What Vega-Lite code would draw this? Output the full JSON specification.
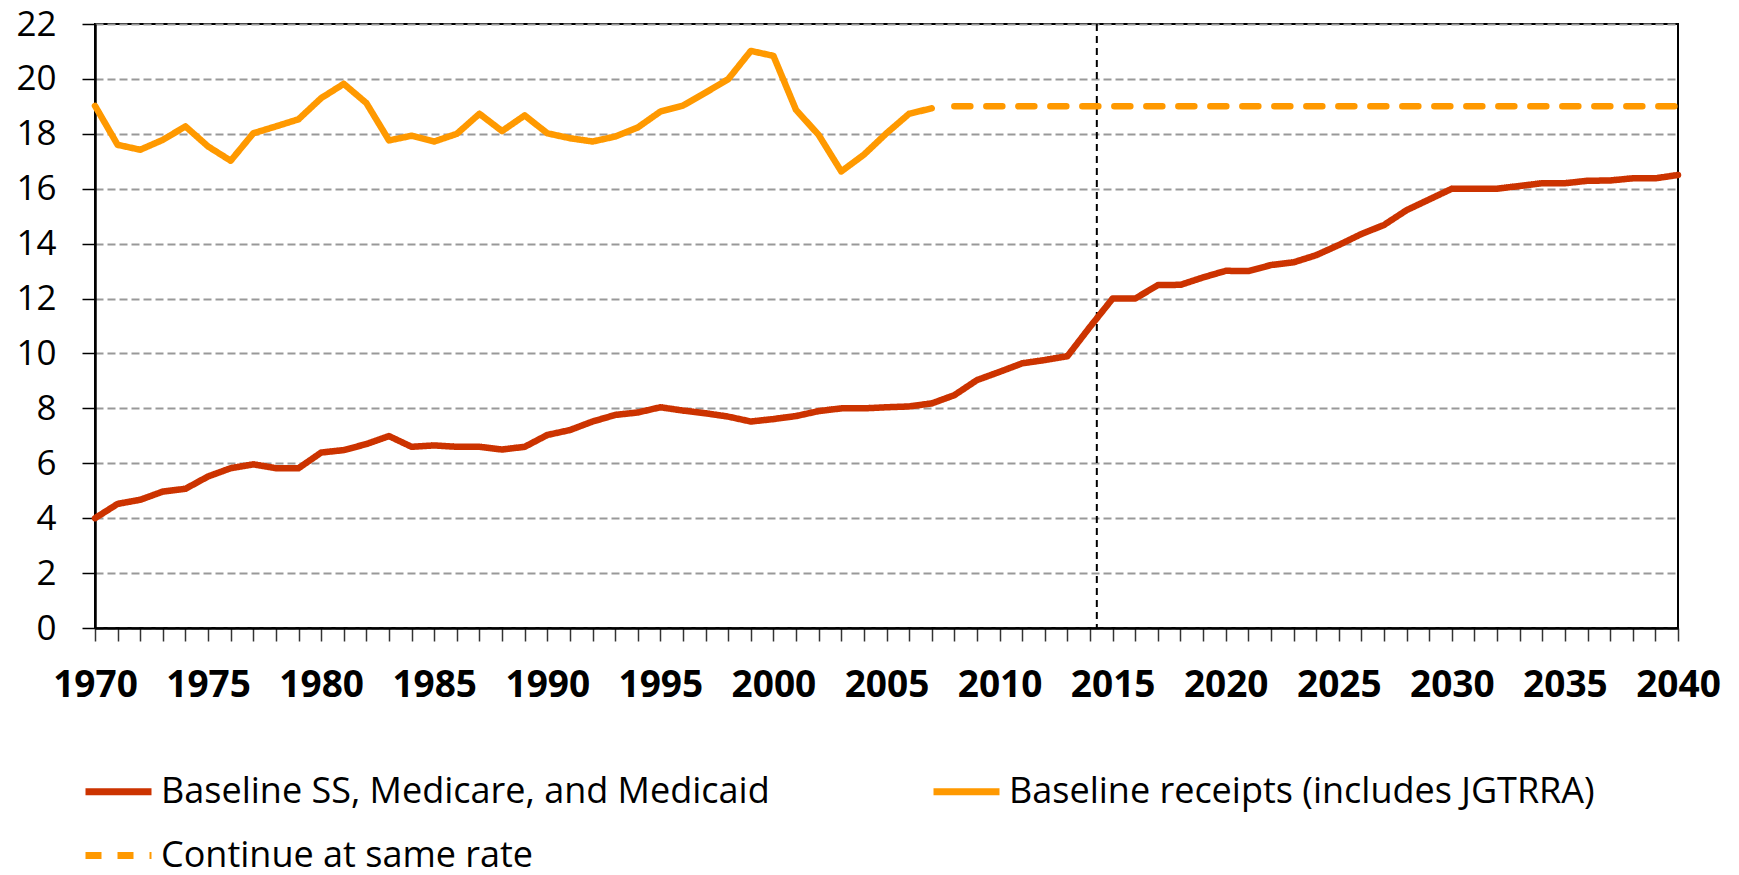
{
  "$schema": "https://vega.github.io/schema/vega-lite/v6.json",
  "width": 1583,
  "height": 604,
  "autosize": "none",
  "padding": {"left": 95, "top": 24, "right": 61, "bottom": 247},
  "background": "white",
  "config": {
    "view": {"stroke": "black", "strokeWidth": 2},
    "font": "Open Sans",
    "axisX": {"labelOverlap": false, "labelSeparation": 0}
  },
  "datasets": {
    "series": [
      {"year": 1970, "value": 4.0, "series": "Baseline SS, Medicare, and Medicaid"},
      {"year": 1971, "value": 4.52, "series": "Baseline SS, Medicare, and Medicaid"},
      {"year": 1972, "value": 4.67, "series": "Baseline SS, Medicare, and Medicaid"},
      {"year": 1973, "value": 4.97, "series": "Baseline SS, Medicare, and Medicaid"},
      {"year": 1974, "value": 5.07, "series": "Baseline SS, Medicare, and Medicaid"},
      {"year": 1975, "value": 5.52, "series": "Baseline SS, Medicare, and Medicaid"},
      {"year": 1976, "value": 5.82, "series": "Baseline SS, Medicare, and Medicaid"},
      {"year": 1977, "value": 5.96, "series": "Baseline SS, Medicare, and Medicaid"},
      {"year": 1978, "value": 5.82, "series": "Baseline SS, Medicare, and Medicaid"},
      {"year": 1979, "value": 5.82, "series": "Baseline SS, Medicare, and Medicaid"},
      {"year": 1980, "value": 6.39, "series": "Baseline SS, Medicare, and Medicaid"},
      {"year": 1981, "value": 6.48, "series": "Baseline SS, Medicare, and Medicaid"},
      {"year": 1982, "value": 6.7, "series": "Baseline SS, Medicare, and Medicaid"},
      {"year": 1983, "value": 6.99, "series": "Baseline SS, Medicare, and Medicaid"},
      {"year": 1984, "value": 6.6, "series": "Baseline SS, Medicare, and Medicaid"},
      {"year": 1985, "value": 6.65, "series": "Baseline SS, Medicare, and Medicaid"},
      {"year": 1986, "value": 6.6, "series": "Baseline SS, Medicare, and Medicaid"},
      {"year": 1987, "value": 6.6, "series": "Baseline SS, Medicare, and Medicaid"},
      {"year": 1988, "value": 6.5, "series": "Baseline SS, Medicare, and Medicaid"},
      {"year": 1989, "value": 6.6, "series": "Baseline SS, Medicare, and Medicaid"},
      {"year": 1990, "value": 7.03, "series": "Baseline SS, Medicare, and Medicaid"},
      {"year": 1991, "value": 7.21, "series": "Baseline SS, Medicare, and Medicaid"},
      {"year": 1992, "value": 7.52, "series": "Baseline SS, Medicare, and Medicaid"},
      {"year": 1993, "value": 7.76, "series": "Baseline SS, Medicare, and Medicaid"},
      {"year": 1994, "value": 7.85, "series": "Baseline SS, Medicare, and Medicaid"},
      {"year": 1995, "value": 8.04, "series": "Baseline SS, Medicare, and Medicaid"},
      {"year": 1996, "value": 7.92, "series": "Baseline SS, Medicare, and Medicaid"},
      {"year": 1997, "value": 7.82, "series": "Baseline SS, Medicare, and Medicaid"},
      {"year": 1998, "value": 7.7, "series": "Baseline SS, Medicare, and Medicaid"},
      {"year": 1999, "value": 7.52, "series": "Baseline SS, Medicare, and Medicaid"},
      {"year": 2000, "value": 7.61, "series": "Baseline SS, Medicare, and Medicaid"},
      {"year": 2001, "value": 7.72, "series": "Baseline SS, Medicare, and Medicaid"},
      {"year": 2002, "value": 7.9, "series": "Baseline SS, Medicare, and Medicaid"},
      {"year": 2003, "value": 8.0, "series": "Baseline SS, Medicare, and Medicaid"},
      {"year": 2004, "value": 8.0, "series": "Baseline SS, Medicare, and Medicaid"},
      {"year": 2005, "value": 8.04, "series": "Baseline SS, Medicare, and Medicaid"},
      {"year": 2006, "value": 8.07, "series": "Baseline SS, Medicare, and Medicaid"},
      {"year": 2007, "value": 8.18, "series": "Baseline SS, Medicare, and Medicaid"},
      {"year": 2008, "value": 8.48, "series": "Baseline SS, Medicare, and Medicaid"},
      {"year": 2009, "value": 9.03, "series": "Baseline SS, Medicare, and Medicaid"},
      {"year": 2010, "value": 9.33, "series": "Baseline SS, Medicare, and Medicaid"},
      {"year": 2011, "value": 9.64, "series": "Baseline SS, Medicare, and Medicaid"},
      {"year": 2012, "value": 9.76, "series": "Baseline SS, Medicare, and Medicaid"},
      {"year": 2013, "value": 9.9, "series": "Baseline SS, Medicare, and Medicaid"},
      {"year": 2014, "value": 10.97, "series": "Baseline SS, Medicare, and Medicaid"},
      {"year": 2015, "value": 12.0, "series": "Baseline SS, Medicare, and Medicaid"},
      {"year": 2016, "value": 12.0, "series": "Baseline SS, Medicare, and Medicaid"},
      {"year": 2017, "value": 12.49, "series": "Baseline SS, Medicare, and Medicaid"},
      {"year": 2018, "value": 12.5, "series": "Baseline SS, Medicare, and Medicaid"},
      {"year": 2019, "value": 12.77, "series": "Baseline SS, Medicare, and Medicaid"},
      {"year": 2020, "value": 13.01, "series": "Baseline SS, Medicare, and Medicaid"},
      {"year": 2021, "value": 13.0, "series": "Baseline SS, Medicare, and Medicaid"},
      {"year": 2022, "value": 13.22, "series": "Baseline SS, Medicare, and Medicaid"},
      {"year": 2023, "value": 13.32, "series": "Baseline SS, Medicare, and Medicaid"},
      {"year": 2024, "value": 13.58, "series": "Baseline SS, Medicare, and Medicaid"},
      {"year": 2025, "value": 13.95, "series": "Baseline SS, Medicare, and Medicaid"},
      {"year": 2026, "value": 14.35, "series": "Baseline SS, Medicare, and Medicaid"},
      {"year": 2027, "value": 14.68, "series": "Baseline SS, Medicare, and Medicaid"},
      {"year": 2028, "value": 15.22, "series": "Baseline SS, Medicare, and Medicaid"},
      {"year": 2029, "value": 15.61, "series": "Baseline SS, Medicare, and Medicaid"},
      {"year": 2030, "value": 16.0, "series": "Baseline SS, Medicare, and Medicaid"},
      {"year": 2031, "value": 16.0, "series": "Baseline SS, Medicare, and Medicaid"},
      {"year": 2032, "value": 16.0, "series": "Baseline SS, Medicare, and Medicaid"},
      {"year": 2033, "value": 16.1, "series": "Baseline SS, Medicare, and Medicaid"},
      {"year": 2034, "value": 16.2, "series": "Baseline SS, Medicare, and Medicaid"},
      {"year": 2035, "value": 16.2, "series": "Baseline SS, Medicare, and Medicaid"},
      {"year": 2036, "value": 16.29, "series": "Baseline SS, Medicare, and Medicaid"},
      {"year": 2037, "value": 16.3, "series": "Baseline SS, Medicare, and Medicaid"},
      {"year": 2038, "value": 16.38, "series": "Baseline SS, Medicare, and Medicaid"},
      {"year": 2039, "value": 16.38, "series": "Baseline SS, Medicare, and Medicaid"},
      {"year": 2040, "value": 16.5, "series": "Baseline SS, Medicare, and Medicaid"},
      {"year": 1970, "value": 19.02, "series": "Baseline receipts (includes JGTRRA)"},
      {"year": 1971, "value": 17.6, "series": "Baseline receipts (includes JGTRRA)"},
      {"year": 1972, "value": 17.42, "series": "Baseline receipts (includes JGTRRA)"},
      {"year": 1973, "value": 17.78, "series": "Baseline receipts (includes JGTRRA)"},
      {"year": 1974, "value": 18.27, "series": "Baseline receipts (includes JGTRRA)"},
      {"year": 1975, "value": 17.54, "series": "Baseline receipts (includes JGTRRA)"},
      {"year": 1976, "value": 17.02, "series": "Baseline receipts (includes JGTRRA)"},
      {"year": 1977, "value": 18.02, "series": "Baseline receipts (includes JGTRRA)"},
      {"year": 1978, "value": 18.27, "series": "Baseline receipts (includes JGTRRA)"},
      {"year": 1979, "value": 18.53, "series": "Baseline receipts (includes JGTRRA)"},
      {"year": 1980, "value": 19.3, "series": "Baseline receipts (includes JGTRRA)"},
      {"year": 1981, "value": 19.82, "series": "Baseline receipts (includes JGTRRA)"},
      {"year": 1982, "value": 19.12, "series": "Baseline receipts (includes JGTRRA)"},
      {"year": 1983, "value": 17.76, "series": "Baseline receipts (includes JGTRRA)"},
      {"year": 1984, "value": 17.93, "series": "Baseline receipts (includes JGTRRA)"},
      {"year": 1985, "value": 17.72, "series": "Baseline receipts (includes JGTRRA)"},
      {"year": 1986, "value": 18.0, "series": "Baseline receipts (includes JGTRRA)"},
      {"year": 1987, "value": 18.73, "series": "Baseline receipts (includes JGTRRA)"},
      {"year": 1988, "value": 18.1, "series": "Baseline receipts (includes JGTRRA)"},
      {"year": 1989, "value": 18.67, "series": "Baseline receipts (includes JGTRRA)"},
      {"year": 1990, "value": 18.02, "series": "Baseline receipts (includes JGTRRA)"},
      {"year": 1991, "value": 17.84, "series": "Baseline receipts (includes JGTRRA)"},
      {"year": 1992, "value": 17.72, "series": "Baseline receipts (includes JGTRRA)"},
      {"year": 1993, "value": 17.9, "series": "Baseline receipts (includes JGTRRA)"},
      {"year": 1994, "value": 18.23, "series": "Baseline receipts (includes JGTRRA)"},
      {"year": 1995, "value": 18.81, "series": "Baseline receipts (includes JGTRRA)"},
      {"year": 1996, "value": 19.03, "series": "Baseline receipts (includes JGTRRA)"},
      {"year": 1997, "value": 19.5, "series": "Baseline receipts (includes JGTRRA)"},
      {"year": 1998, "value": 19.99, "series": "Baseline receipts (includes JGTRRA)"},
      {"year": 1999, "value": 21.02, "series": "Baseline receipts (includes JGTRRA)"},
      {"year": 2000, "value": 20.84, "series": "Baseline receipts (includes JGTRRA)"},
      {"year": 2001, "value": 18.87, "series": "Baseline receipts (includes JGTRRA)"},
      {"year": 2002, "value": 17.96, "series": "Baseline receipts (includes JGTRRA)"},
      {"year": 2003, "value": 16.63, "series": "Baseline receipts (includes JGTRRA)"},
      {"year": 2004, "value": 17.24, "series": "Baseline receipts (includes JGTRRA)"},
      {"year": 2005, "value": 18.02, "series": "Baseline receipts (includes JGTRRA)"},
      {"year": 2006, "value": 18.73, "series": "Baseline receipts (includes JGTRRA)"},
      {"year": 2007, "value": 18.93, "series": "Baseline receipts (includes JGTRRA)"},
      {"year": 2008, "value": 19.0, "series": "Continue at same rate"},
      {"year": 2009, "value": 19.0, "series": "Continue at same rate"},
      {"year": 2010, "value": 19.0, "series": "Continue at same rate"},
      {"year": 2011, "value": 19.0, "series": "Continue at same rate"},
      {"year": 2012, "value": 19.0, "series": "Continue at same rate"},
      {"year": 2013, "value": 19.0, "series": "Continue at same rate"},
      {"year": 2014, "value": 19.0, "series": "Continue at same rate"},
      {"year": 2015, "value": 19.0, "series": "Continue at same rate"},
      {"year": 2016, "value": 19.0, "series": "Continue at same rate"},
      {"year": 2017, "value": 19.0, "series": "Continue at same rate"},
      {"year": 2018, "value": 19.0, "series": "Continue at same rate"},
      {"year": 2019, "value": 19.0, "series": "Continue at same rate"},
      {"year": 2020, "value": 19.0, "series": "Continue at same rate"},
      {"year": 2021, "value": 19.0, "series": "Continue at same rate"},
      {"year": 2022, "value": 19.0, "series": "Continue at same rate"},
      {"year": 2023, "value": 19.0, "series": "Continue at same rate"},
      {"year": 2024, "value": 19.0, "series": "Continue at same rate"},
      {"year": 2025, "value": 19.0, "series": "Continue at same rate"},
      {"year": 2026, "value": 19.0, "series": "Continue at same rate"},
      {"year": 2027, "value": 19.0, "series": "Continue at same rate"},
      {"year": 2028, "value": 19.0, "series": "Continue at same rate"},
      {"year": 2029, "value": 19.0, "series": "Continue at same rate"},
      {"year": 2030, "value": 19.0, "series": "Continue at same rate"},
      {"year": 2031, "value": 19.0, "series": "Continue at same rate"},
      {"year": 2032, "value": 19.0, "series": "Continue at same rate"},
      {"year": 2033, "value": 19.0, "series": "Continue at same rate"},
      {"year": 2034, "value": 19.0, "series": "Continue at same rate"},
      {"year": 2035, "value": 19.0, "series": "Continue at same rate"},
      {"year": 2036, "value": 19.0, "series": "Continue at same rate"},
      {"year": 2037, "value": 19.0, "series": "Continue at same rate"},
      {"year": 2038, "value": 19.0, "series": "Continue at same rate"},
      {"year": 2039, "value": 19.0, "series": "Continue at same rate"},
      {"year": 2040, "value": 19.0, "series": "Continue at same rate"}
    ],
    "marker": [{"year": 2014.3}]
  },
  "encoding": {
    "x": {
      "field": "year",
      "type": "quantitative",
      "scale": {"domain": [1970, 2040], "nice": false, "zero": false},
      "axis": {
        "title": null,
        "values": [1970,1971,1972,1973,1974,1975,1976,1977,1978,1979,1980,1981,1982,1983,1984,1985,1986,1987,1988,1989,1990,1991,1992,1993,1994,1995,1996,1997,1998,1999,2000,2001,2002,2003,2004,2005,2006,2007,2008,2009,2010,2011,2012,2013,2014,2015,2016,2017,2018,2019,2020,2021,2022,2023,2024,2025,2026,2027,2028,2029,2030,2031,2032,2033,2034,2035,2036,2037,2038,2039,2040],
        "labelExpr": "datum.value % 5 === 0 ? toString(datum.value) : ''",
        "labelOverlap": false,
        "labelSeparation": 0,
        "labelFont": "Open Sans",
        "labelFontSize": 37,
        "labelFontWeight": "bold",
        "labelColor": "black",
        "labelPadding": 26,
        "labelFlush": false,
        "grid": false,
        "domainColor": "black",
        "domainWidth": 2.5,
        "tickColor": "#333333",
        "tickWidth": 1.5,
        "tickSize": 13
      }
    }
  },
  "layer": [
    {
      "data": {"name": "marker"},
      "mark": {"type": "rule", "color": "black", "strokeWidth": 2, "strokeDash": [7, 5]},
      "encoding": {}
    },
    {
      "data": {"name": "series"},
      "mark": {"type": "line", "strokeWidth": 6.5, "strokeCap": "round", "strokeJoin": "round"},
      "encoding": {
        "y": {
          "field": "value",
          "type": "quantitative",
          "scale": {"domain": [0, 22], "nice": false},
          "axis": {
            "title": null,
            "values": [0, 2, 4, 6, 8, 10, 12, 14, 16, 18, 20, 22],
            "labelFont": "Open Sans",
            "labelFontSize": 35,
            "labelColor": "black",
            "labelPadding": 26,
            "labelFlush": false,
            "grid": true,
            "gridColor": "#999999",
            "gridWidth": 2,
            "gridDash": [8, 4],
            "domainColor": "black",
            "domainWidth": 2.5,
            "tickColor": "black",
            "tickWidth": 1.5,
            "tickSize": 13
          }
        },
        "color": {
          "field": "series",
          "type": "nominal",
          "sort": ["Baseline SS, Medicare, and Medicaid", "Baseline receipts (includes JGTRRA)", "Continue at same rate"],
          "scale": {
            "domain": ["Baseline SS, Medicare, and Medicaid", "Baseline receipts (includes JGTRRA)", "Continue at same rate"],
            "range": ["#CC3300", "#FF9900", "#FF9900"]
          },
          "legend": {
            "title": null,
            "orient": "none",
            "legendX": -13,
            "legendY": 731,
            "direction": "horizontal",
            "columns": 2,
            "columnPadding": 149,
            "rowPadding": 9,
            "labelFont": "Open Sans",
            "labelFontSize": 36,
            "labelColor": "black",
            "labelLimit": 1000,
            "labelOffset": 6,
            "symbolType": "stroke",
            "symbolSize": 4356,
            "symbolStrokeWidth": 7
          }
        },
        "strokeDash": {
          "field": "series",
          "type": "nominal",
          "scale": {
            "domain": ["Baseline SS, Medicare, and Medicaid", "Baseline receipts (includes JGTRRA)", "Continue at same rate"],
            "range": [[1, 0], [1, 0], [16, 16]]
          },
          "legend": null
        }
      }
    }
  ]
}
